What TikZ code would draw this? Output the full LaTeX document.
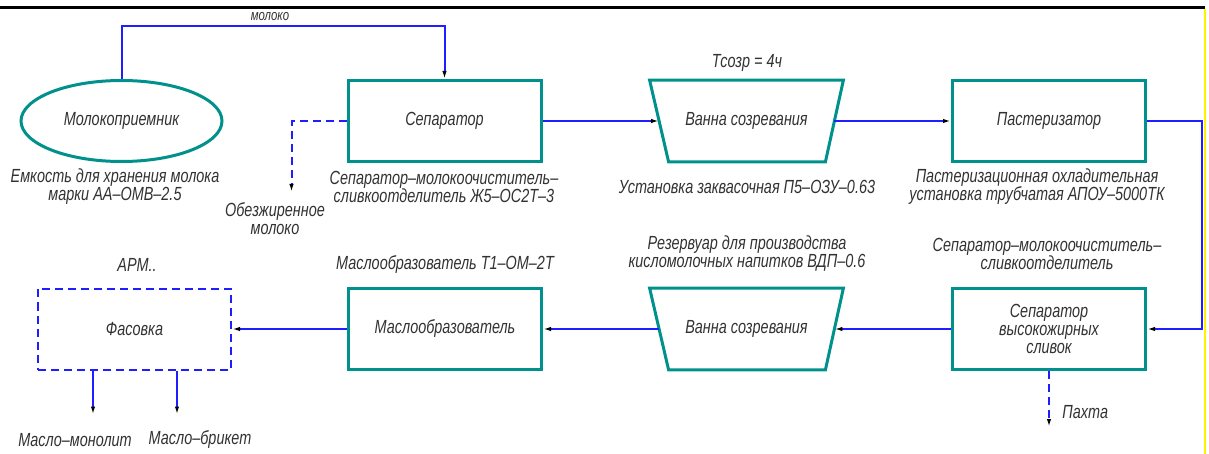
\documentclass[tikz,border=0pt]{standalone}
\usepackage{fontspec}
\setmainfont{Liberation Sans}[FakeStretch=0.76]
\usetikzlibrary{shapes.geometric,arrows.meta}
\definecolor{teal1}{RGB}{0,145,140}
\definecolor{flow}{RGB}{30,30,255}
\definecolor{txt}{RGB}{50,50,50}
\begin{document}
\begin{tikzpicture}[x=0.5pt,y=-0.5pt,
  every node/.style={font=\fontsize{9.5}{9}\selectfont\itshape, text=txt},
  box/.style={draw=teal1, line width=1.5pt, minimum width=96.5pt, minimum height=40.5pt, inner sep=0pt, align=center},
  tank/.style={minimum width=96.5pt, minimum height=40.5pt, inner sep=0pt},
  tankline/.style={draw=teal1, line width=1.5pt, line join=miter},
  lbl/.style={align=center, inner sep=0pt},
  flowline/.style={draw=flow, line width=1pt},
  dashline/.style={draw=flow, line width=1pt, dash pattern=on 4pt off 2.5pt},
  arr/.style={-{Latex[black,length=4pt,width=2.2pt]}}]
\useasboundingbox (0,0) rectangle (1209,454);
% frame lines
\draw[line width=1.5pt] (0,8) -- (1205,8);
\draw[yellow, line width=1pt] (1205,9) -- (1205,454);

% top row
\node[draw=teal1, ellipse, line width=1.5pt, minimum width=100.5pt, minimum height=40.5pt, inner sep=0pt] (ell) at (121.5,121) {Молокоприемник};
\node[box] (sep) at (444.5,121) {Сепаратор};
\node[tank] (v1) at (746.5,121) {Ванна созревания};
\draw[tankline] (v1.north west) -- (v1.north east) -- ([xshift=-9pt]v1.south east) -- ([xshift=9.5pt]v1.south west) -- cycle;
\node[box] (past) at (1049,121) {Пастеризатор};

\node[lbl] (t1) at (115,187) {Емкость для хранения молока\\марки АА–ОМВ–2.5};
\node[lbl] (t2) at (444,187) {Сепаратор–молокоочиститель–\\сливкоотделитель Ж5–ОС2Т–3};
\node[lbl] (t3) at (747,187) {Установка заквасочная П5–ОЗУ–0.63};
\node[lbl] (t4) at (1037,187) {Пастеризационная охладительная\\установка трубчатая АПОУ–5000ТК};
\node[lbl] (t5) at (747,63) {Тсозр = 4ч};
\node[lbl, font=\fontsize{7.5}{8}\selectfont\itshape] (t6) at (270,17) {молоко};
\node[lbl] (t7) at (275,219) {Обезжиренное\\молоко};

% bottom row
\node[box, dashline] (fas) at (134.5,329) {Фасовка};
\node[box] (masl) at (445,329) {Маслообразователь};
\node[tank] (v2) at (746.5,329) {Ванна созревания};
\draw[tankline] (v2.north west) -- (v2.north east) -- ([xshift=-9pt]v2.south east) -- ([xshift=9.5pt]v2.south west) -- cycle;
\node[box, align=center] (sep2) at (1049,329) {Сепаратор\\высокожирных\\сливок};

\node[lbl] (b1) at (137,265) {АРМ..};
\node[lbl] (b2) at (445,265) {Маслообразователь Т1–ОМ–2Т};
\node[lbl] (b3) at (747,254) {Резервуар для производства\\кисломолочных напитков ВДП–0.6};
\node[lbl] (b4) at (1047,254) {Сепаратор–молокоочиститель–\\сливкоотделитель};
\node[lbl] (b5) at (75,440) {Масло–монолит};
\node[lbl] (b6) at (200,440) {Масло–брикет};
\node[lbl, anchor=west] (b7) at (1062,412) {Пахта};

% connectors
\draw[flowline, arr] (ell.north) -- ++(0,-53) -| (sep.north);
\draw[dashline, arr] (sep.west) -| ++(-55,71);
\draw[flowline, arr] (sep.east) -- ([xshift=4.75pt]v1.west);
\draw[flowline, arr] ([xshift=-4.5pt]v1.east) -- (past.west);
\draw[flowline, arr] (past.east) -- ++(55,0) |- (sep2.east);
\draw[flowline, arr] (sep2.west) -- ([xshift=-4.5pt]v2.east);
\draw[flowline, arr] ([xshift=4.75pt]v2.west) -- (masl.east);
\draw[flowline, arr] (masl.west) -- (fas.east);
\draw[dashline, arr] (sep2.south) -- ++(0,56);
\draw[flowline, arr] ([xshift=-20.75pt]fas.south) -- ++(0,44);
\draw[flowline, arr] ([xshift=21.25pt]fas.south) -- ++(0,44);
\end{tikzpicture}
\end{document}
